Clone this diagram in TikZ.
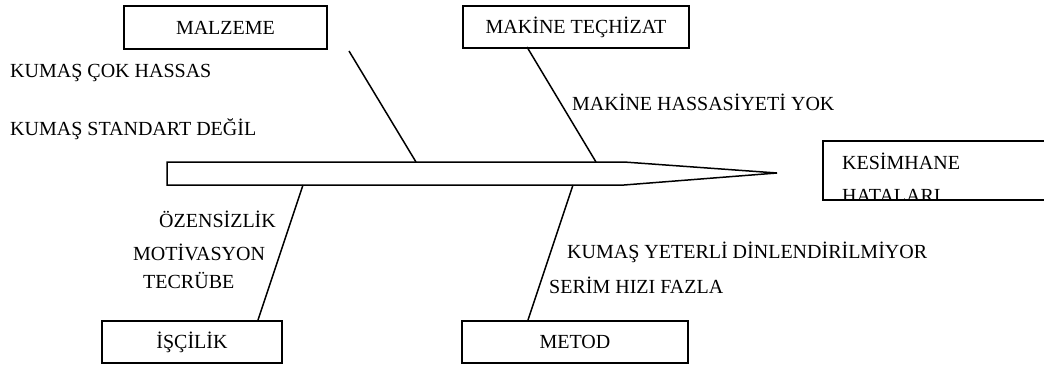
\documentclass[tikz,border=0pt]{standalone}
\usepackage{fontspec}
\setmainfont{Liberation Serif}
\begin{document}
\begin{tikzpicture}[x=1pt,y=-1pt,
  txt/.style={font=\fontsize{20}{24}\selectfont},
  box/.style={draw, line width=1.9pt, inner sep=0pt, anchor=north west, txt},
  bone/.style={line width=1.5pt},
  lbl/.style={anchor=base west, inner sep=0pt, txt}
]
\useasboundingbox (0,0) rectangle (1044,367);
\fill[white] (0,0) rectangle (1044,367);

% category boxes
\node[box, minimum width=203pt, minimum height=43pt] (malzeme) at (123,5) {MALZEME};
\node[box, minimum width=226pt, minimum height=42pt] (makine) at (462,5) {MAKİNE TEÇHİZAT};
\node[box, minimum width=180pt, minimum height=42pt] (iscilik) at (101,320) {İŞÇİLİK};
\node[box, minimum width=226pt, minimum height=42pt] (metod) at (461,320) {METOD};

% effect box, running past the right edge
\begin{scope}
  \clip (0,0) rectangle (1044,367);
  \node[box, minimum width=228pt, minimum height=59pt] (etki) at (822,140) {};
  \clip (822,140) rectangle (1044,198);
  \node[lbl] (etkiA) at (842,169) {KESİMHANE};
  \node[lbl] (etkiB) at (842,202) {HATALARI};
\end{scope}

% spine
\coordinate (sA) at (167,162);
\coordinate (sB) at (624,162);
\coordinate (tip) at (777,173);
\coordinate (sC) at (624,185);
\coordinate (sD) at (167,185);
\draw[bone] (sA) -- (sB) -- (tip) -- (sC) -- (sD) -- cycle;

% bones
\coordinate (mzTop) at (349,51);
\coordinate (mzEnd) at (416,162);
\coordinate (mkTop) at (527,47);
\coordinate (mkEnd) at (596,162);
\coordinate (isEnd) at (303,185);
\coordinate (isBot) at (258,320);
\coordinate (mtEnd) at (573,185);
\coordinate (mtBot) at (528,320);
\draw[bone] (mzTop) -- (mzEnd);
\draw[bone] (mkTop) -- (mkEnd);
\draw[bone] (isEnd) -- (isBot);
\draw[bone] (mtEnd) -- (mtBot);

% causes
\node[lbl] (c1) at (10,77) {KUMAŞ ÇOK HASSAS};
\node[lbl] (c2) at (10,135) {KUMAŞ STANDART DEĞİL};
\node[lbl] (c3) at (572,110) {MAKİNE HASSASİYETİ YOK};
\node[lbl] (c4) at (159,227) {ÖZENSİZLİK};
\node[lbl] (c5) at (133,260) {MOTİVASYON};
\node[lbl] (c6) at (143,288) {TECRÜBE};
\node[lbl] (c7) at (567,258) {KUMAŞ YETERLİ DİNLENDİRİLMİYOR};
\node[lbl] (c8) at (549,293) {SERİM HIZI FAZLA};
\end{tikzpicture}
\end{document}
